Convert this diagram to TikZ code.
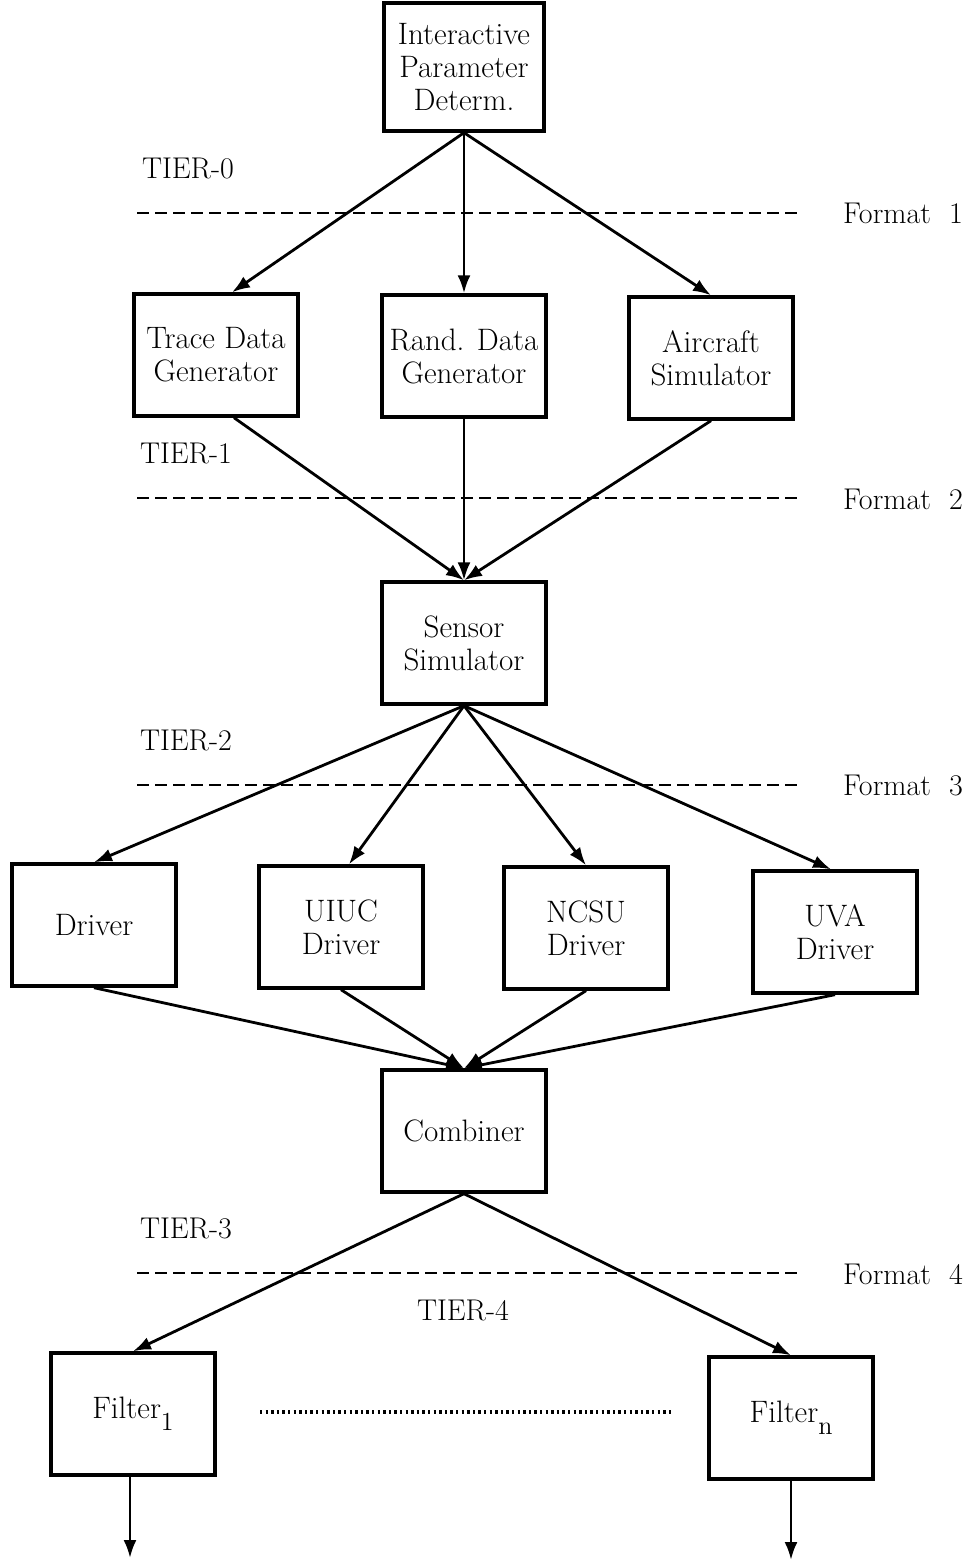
\documentclass[tikz,border=0pt]{standalone}
\usetikzlibrary{arrows.meta}
\begin{document}
\begin{tikzpicture}[x=0.5pt,y=-0.5pt,
    box/.style={draw,line width=1.7pt,inner sep=0pt,minimum width=82pt,minimum height=61pt,
      align=center,font=\fontsize{15.5}{16.5}\selectfont},
    link/.style={line width=1.4pt,-{Latex[length=9pt,width=6.5pt]}},
    sep/.style={line width=1.4pt,dash pattern=on 6pt off 3pt},
    tier/.style={font=\fontsize{15}{16}\selectfont}]
  \useasboundingbox (0,0) rectangle (979,1564);
  % tier 0
  \node [box,minimum width=80pt,minimum height=64pt] (ipd) at (464,67) {Interactive\\Parameter\\Determ.};
  % tier 1
  \node [box] (trace) at (216,355) {Trace Data\\Generator};
  \node [box] (rand) at (464,356) {Rand. Data\\Generator};
  \node [box] (air) at (711,358) {Aircraft\\Simulator};
  % tier 2
  \node [box] (sensor) at (464,643) {Sensor\\Simulator};
  % drivers
  \node [box] (drv) at (94,925) {Driver};
  \node [box] (uiuc) at (341,927) {UIUC\\Driver};
  \node [box] (ncsu) at (586,928) {NCSU\\Driver};
  \node [box] (uva) at (835,932) {UVA\\Driver};
  % tier 3
  \node [box] (comb) at (464,1131) {Combiner};
  % filters
  \node [box] (filt1) at (133,1414) {Filter\raisebox{-6pt}{\fontsize{13}{13}\selectfont 1}};
  \node [box] (filtn) at (791,1418) {Filter\raisebox{-6pt}{\fontsize{13}{13}\selectfont n}};
  \coordinate (out1) at (130,1558);
  \coordinate (outn) at (791,1560);
  % tier labels and format lines
  \node [tier] (t0) at (188,168) {TIER-0};
  \node [tier] (t1) at (186,453) {TIER-1};
  \node [tier] (t2) at (186,740) {TIER-2};
  \node [tier] (t3) at (186,1228) {TIER-3};
  \node [tier] (t4) at (463,1310) {TIER-4};
  \node [tier] (f1) at (903,213) {Format\ \ 1};
  \node [tier] (f2) at (903,499) {Format\ \ 2};
  \node [tier] (f3) at (903,786) {Format\ \ 3};
  \node [tier] (f4) at (903,1274) {Format\ \ 4};
  \draw [sep] (137,213) -- (797,213);
  \draw [sep] (137,498) -- (797,498);
  \draw [sep] (137,785) -- (797,785);
  \draw [sep] (137,1273) -- (797,1273);
  \draw [line width=1.6pt,dash pattern=on 1.2pt off 1.6pt] (260,1412) -- (672,1412);
  % arrows
  \draw [link] (ipd.south) -- ([xshift=8pt]trace.north);
  \draw [link] (ipd.south) -- (rand.north);
  \draw [link] (ipd.south) -- (air.north);
  \draw [link] ([xshift=9pt]trace.south) -- (sensor.north);
  \draw [link] (rand.south) -- (sensor.north);
  \draw [link] (air.south) -- (sensor.north);
  \draw [link] (sensor.south) -- (drv.north);
  \draw [link] (sensor.south) -- ([xshift=4pt]uiuc.north);
  \draw [link] (sensor.south) -- (ncsu.north);
  \draw [link] (sensor.south) -- ([xshift=-2pt]uva.north);
  \draw [link] (drv.south) -- (comb.north);
  \draw [link] (uiuc.south) -- (comb.north);
  \draw [link] (ncsu.south) -- (comb.north);
  \draw [link] (uva.south) -- (comb.north);
  \draw [link] (comb.south) -- (filt1.north);
  \draw [link] (comb.south) -- (filtn.north);
  \draw [link] ([xshift=-1.5pt]filt1.south) -- (out1);
  \draw [link] (filtn.south) -- (outn);
\end{tikzpicture}
\end{document}
